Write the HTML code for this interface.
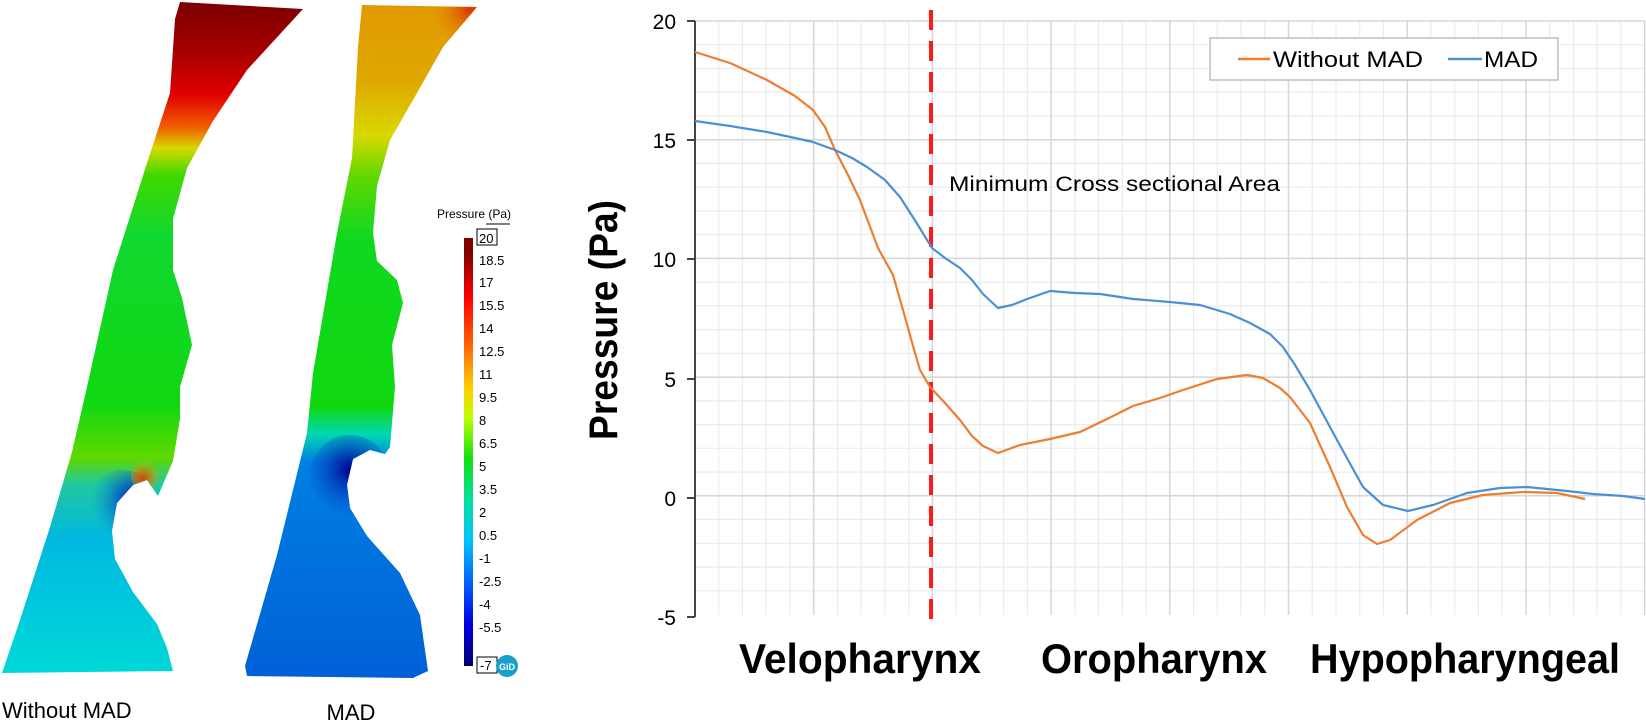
<!DOCTYPE html>
<html><head><meta charset="utf-8"><style>
html,body{margin:0;padding:0;background:#fff;}
svg{display:block;font-family:"Liberation Sans",sans-serif;}
</style></head><body>
<svg width="1646" height="727" viewBox="0 0 1646 727" xmlns="http://www.w3.org/2000/svg">
<defs>
<linearGradient id="g1" x1="0" y1="0" x2="0" y2="673" gradientUnits="userSpaceOnUse">
<stop offset="0" stop-color="#7a0000"/><stop offset="0.08" stop-color="#a80000"/>
<stop offset="0.14" stop-color="#e00000"/><stop offset="0.19" stop-color="#f06000"/>
<stop offset="0.22" stop-color="#d8d800"/><stop offset="0.26" stop-color="#40d800"/>
<stop offset="0.35" stop-color="#10d830"/><stop offset="0.6" stop-color="#10d810"/>
<stop offset="0.68" stop-color="#60d800"/><stop offset="0.72" stop-color="#20c8a0"/>
<stop offset="0.8" stop-color="#00b8e0"/><stop offset="1" stop-color="#00d8d8"/>
</linearGradient>
<linearGradient id="g2" x1="0" y1="0" x2="0" y2="678" gradientUnits="userSpaceOnUse">
<stop offset="0" stop-color="#e09800"/><stop offset="0.12" stop-color="#e0a800"/>
<stop offset="0.2" stop-color="#d8d800"/><stop offset="0.26" stop-color="#60d800"/>
<stop offset="0.35" stop-color="#10d820"/><stop offset="0.6" stop-color="#10d810"/>
<stop offset="0.64" stop-color="#00d8b0"/><stop offset="0.68" stop-color="#0080e0"/>
<stop offset="1" stop-color="#0060d8"/>
</linearGradient>
<radialGradient id="r1" cx="135" cy="500" r="45" gradientUnits="userSpaceOnUse">
<stop offset="0" stop-color="#0000b0"/><stop offset="1" stop-color="#0090e0" stop-opacity="0"/></radialGradient>
<radialGradient id="r2" cx="143" cy="478" r="22" gradientUnits="userSpaceOnUse">
<stop offset="0" stop-color="#e04000"/><stop offset="1" stop-color="#c0d800" stop-opacity="0"/></radialGradient>
<radialGradient id="r3" cx="350" cy="470" r="50" gradientUnits="userSpaceOnUse">
<stop offset="0" stop-color="#000090"/><stop offset="1" stop-color="#0060d8" stop-opacity="0"/></radialGradient>
<radialGradient id="r4" cx="470" cy="10" r="40" gradientUnits="userSpaceOnUse">
<stop offset="0" stop-color="#e03000"/><stop offset="1" stop-color="#e09800" stop-opacity="0"/></radialGradient>
<linearGradient id="cb" x1="0" y1="252" x2="0" y2="666" gradientUnits="userSpaceOnUse">
<stop offset="0" stop-color="#800000"/><stop offset="0.11" stop-color="#ff0000"/>
<stop offset="0.22" stop-color="#ff6000"/><stop offset="0.33" stop-color="#ffd000"/>
<stop offset="0.4" stop-color="#c0ff00"/><stop offset="0.5" stop-color="#10e010"/>
<stop offset="0.6" stop-color="#00e0a0"/><stop offset="0.7" stop-color="#00c0ff"/>
<stop offset="0.8" stop-color="#0060ff"/><stop offset="0.9" stop-color="#0000e0"/>
<stop offset="1" stop-color="#000070"/>
</linearGradient>
<clipPath id="c1"><polygon points="180,2 303,9 247,70 213,121 187,168 173,219 173,270 182,298 192,345 180,387 180,419 173,461 158,496 147,480 133,485 117,503 112,531 115,559 133,592 157,624 167,648 173,671 2,673 20,620 50,527 72,452 87,387 113,270 147,163 170,93 175,19"/></clipPath>
<clipPath id="c2"><polygon points="362,5 477,7 443,47 417,93 390,140 377,186 373,233 377,261 397,280 403,303 392,345 395,387 390,447 385,454 370,450 353,459 347,485 350,508 367,536 400,573 420,615 428,671 413,678 247,676 245,666 277,555 307,433 313,373 337,233 352,158 358,47"/></clipPath>
</defs>

<g clip-path="url(#c1)">
<rect x="0" y="0" width="310" height="680" fill="url(#g1)"/>
<circle cx="122" cy="505" r="35" fill="url(#r1)"/>
<circle cx="145" cy="476" r="14" fill="url(#r2)"/>
</g>
<g clip-path="url(#c2)">
<rect x="240" y="0" width="240" height="680" fill="url(#g2)"/>
<circle cx="350" cy="475" r="40" fill="url(#r3)"/>
<circle cx="470" cy="12" r="35" fill="url(#r4)"/>
</g>

<!-- colorbar -->
<text x="437" y="218" font-size="12" fill="#000">Pressure (Pa)</text>
<line x1="486" y1="224" x2="510" y2="224" stroke="#000" stroke-width="1"/>
<rect x="464" y="238" width="9" height="428" fill="url(#cb)"/>
<g font-size="13" fill="#000">
<rect x="477" y="229" width="20" height="16" fill="none" stroke="#000"/>
<text x="479" y="243">20</text>
<text x="479" y="265">18.5</text><text x="479" y="287">17</text><text x="479" y="310">15.5</text>
<text x="479" y="333">14</text><text x="479" y="356">12.5</text><text x="479" y="379">11</text>
<text x="479" y="402">9.5</text><text x="479" y="425">8</text><text x="479" y="448">6.5</text>
<text x="479" y="471">5</text><text x="479" y="494">3.5</text><text x="479" y="517">2</text>
<text x="479" y="540">0.5</text><text x="479" y="563">-1</text><text x="479" y="586">-2.5</text>
<text x="479" y="609">-4</text><text x="479" y="632">-5.5</text>
<rect x="477" y="657" width="20" height="16" fill="none" stroke="#000"/>
<text x="480" y="670">-7</text>
</g>
<circle cx="507" cy="666" r="11" fill="#1a9fc8"/>
<text x="507" y="670" font-size="9" fill="#fff" text-anchor="middle" font-weight="bold">GiD</text>

<text x="2" y="718" font-size="22" fill="#000">Without MAD</text>
<text x="351" y="720" font-size="22" fill="#000" text-anchor="middle">MAD</text>

<g stroke="#ebebeb" stroke-width="1.2" fill="none">
<path d="M695 44.7H1645M695 68.5H1645M695 92.2H1645M695 116H1645M695 163.4H1645M695 187.2H1645M695 210.9H1645M695 234.7H1645M695 282.2H1645M695 305.9H1645M695 329.6H1645M695 353.4H1645M695 400.9H1645M695 424.6H1645M695 448.3H1645M695 472.1H1645M695 519.5H1645M695 543.3H1645M695 567H1645M695 590.8H1645"/>
<path d="M718.7 21V615M742.5 21V615M766.2 21V615M790 21V615M837.4 21V615M861.2 21V615M884.9 21V615M908.7 21V615M956.2 21V615M979.9 21V615M1003.6 21V615M1027.4 21V615M1074.9 21V615M1098.6 21V615M1122.3 21V615M1146.1 21V615M1193.5 21V615M1217.3 21V615M1241 21V615M1264.8 21V615M1312.2 21V615M1336 21V615M1359.7 21V615M1383.5 21V615M1430.9 21V615M1454.7 21V615M1478.4 21V615M1502.2 21V615M1549.6 21V615M1573.4 21V615M1597.1 21V615M1620.9 21V615"/>
</g>
<g stroke="#d6d6d6" stroke-width="1.5" fill="none">
<path d="M695 21H1645M695 139.7H1645M695 258.4H1645M695 377.1H1645M695 495.8H1645"/>
<path d="M813.7 21V615M932.4 21V615M1051.1 21V615M1169.8 21V615M1288.5 21V615M1407.2 21V615M1525.9 21V615M1644.6 21V615"/>
</g>
<g stroke="#444" stroke-width="2">
<line x1="695" y1="21" x2="695" y2="617"/>
<line x1="687" y1="21" x2="695" y2="21"/><line x1="687" y1="140" x2="695" y2="140"/>
<line x1="687" y1="259" x2="695" y2="259"/><line x1="687" y1="379" x2="695" y2="379"/>
<line x1="687" y1="498" x2="695" y2="498"/><line x1="687" y1="617" x2="695" y2="617"/>
</g>
<g font-size="21" fill="#000" text-anchor="end">
<text x="676" y="29">20</text><text x="676" y="148">15</text><text x="676" y="267">10</text>
<text x="676" y="387">5</text><text x="676" y="506">0</text><text x="676" y="625">-5</text>
</g>
<text transform="translate(617,320) rotate(-90)" font-size="40" font-weight="bold" text-anchor="middle" fill="#000" textLength="240" lengthAdjust="spacingAndGlyphs">Pressure (Pa)</text>

<line x1="931" y1="10" x2="931" y2="630" stroke="#ff1a1a" stroke-width="4" stroke-dasharray="20,11"/>
<text x="949" y="191" font-size="21" fill="#000" textLength="331" lengthAdjust="spacingAndGlyphs">Minimum Cross sectional Area</text>

<polyline fill="none" stroke="#ed7d31" stroke-width="2.2" stroke-linejoin="round" points="695,52 730,63 767,80 795,96 813,110 825,127 835,150 848,175 860,200 878,248 893,275 903,310 913,346 920,370 930,387 945,403 960,420 972,436 983,446 998,453 1020,445 1050,439 1080,432 1105,420 1133,406 1160,398 1183,390 1217,379 1247,375 1263,378 1280,388 1290,397 1310,423 1330,467 1347,507 1363,535 1377,544 1390,540 1417,520 1450,503 1483,495 1523,492 1557,493 1585,499"/>
<polyline fill="none" stroke="#4a90d6" stroke-width="2.2" stroke-linejoin="round" points="695,121 730,126 767,132 795,138 813,142 835,150 852,158 867,167 885,180 900,197 916,222 932,248 945,258 960,268 972,280 983,294 998,308 1012,305 1027,299 1050,291 1075,293 1100,294 1133,299 1170,302 1200,305 1230,314 1250,323 1270,334 1283,347 1295,365 1310,390 1337,440 1363,487 1383,505 1408,511 1433,505 1467,493 1500,488 1527,487 1567,491 1593,494 1623,496 1645,499"/>

<rect x="1210" y="38" width="348" height="42" fill="#fff" stroke="#bdbdbd" stroke-width="1.5"/>
<line x1="1238" y1="59" x2="1270" y2="59" stroke="#ed7d31" stroke-width="2.5"/>
<text x="1273" y="67" font-size="22" fill="#000" textLength="150" lengthAdjust="spacingAndGlyphs">Without MAD</text>
<line x1="1448" y1="59" x2="1482" y2="59" stroke="#4a90d6" stroke-width="2.5"/>
<text x="1484" y="67" font-size="22" fill="#000" textLength="54" lengthAdjust="spacingAndGlyphs">MAD</text>

<g font-size="42" font-weight="bold" fill="#000">
<text x="739" y="673" textLength="242" lengthAdjust="spacingAndGlyphs">Velopharynx</text>
<text x="1041" y="673" textLength="226" lengthAdjust="spacingAndGlyphs">Oropharynx</text>
<text x="1310" y="673" textLength="310" lengthAdjust="spacingAndGlyphs">Hypopharyngeal</text>
</g>
</svg>
</body></html>
